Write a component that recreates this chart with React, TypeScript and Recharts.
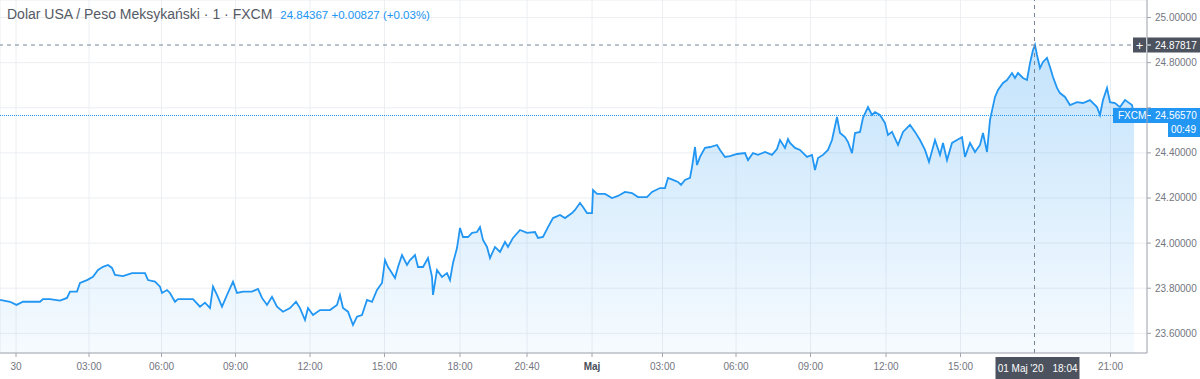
import React from 'react';
import { ComposedChart, Area, XAxis, YAxis, CartesianGrid, ReferenceLine } from 'recharts';

// bar index (2 bars per axis step unit) and close price
const bars = [
  0, 20, 33, 46, 80, 86, 100, 120, 134, 140, 154, 160, 174, 186, 196, 206, 216, 224, 230, 246,
  264, 290, 296, 310, 320, 324, 334, 340, 350, 356, 374, 386, 400, 410, 420, 426, 434, 444, 454, 466,
  474, 486, 504, 516, 524, 534, 544, 554, 566, 580, 592, 600, 610, 616, 626, 640, 660, 674, 680, 686,
  696, 706, 714, 724, 734, 744, 754, 764, 770, 776, 780, 790, 796, 804, 814, 820, 830, 836, 846, 856,
  864, 866, 874, 884, 894, 900, 906, 914, 920, 926, 936, 944, 954, 960, 966, 974, 980, 990, 1000, 1010,
  1016, 1026, 1040, 1054, 1070, 1076, 1086, 1096, 1106, 1120, 1130, 1144, 1150, 1160, 1166, 1174, 1184, 1186, 1194, 1210,
  1224, 1236, 1250, 1264, 1276, 1294, 1304, 1320, 1330, 1336, 1346, 1356, 1362, 1370, 1380, 1384, 1390, 1394, 1400, 1410,
  1420, 1434, 1440, 1450, 1460, 1474, 1490, 1496, 1506, 1516, 1530, 1544, 1554, 1560, 1570, 1576, 1580, 1590, 1600, 1614,
  1624, 1630, 1636, 1646, 1656, 1664, 1674, 1680, 1690, 1696, 1704, 1710, 1720, 1726, 1736, 1744, 1750, 1760, 1770, 1776,
  1784, 1796, 1806, 1820, 1830, 1840, 1850, 1858, 1870, 1880, 1886, 1894, 1904, 1914, 1924, 1930, 1940, 1950, 1960, 1966,
  1974, 1980, 1990, 1996, 2006, 2014, 2024, 2030, 2036, 2046, 2054, 2060, 2066, 2070, 2074, 2080, 2086, 2094, 2100, 2106,
  2114, 2120, 2130, 2140, 2154, 2166, 2180, 2194, 2200, 2206, 2214, 2220, 2230, 2240, 2250, 2256, 2264, 2268,
];

const prices = [
  23.748, 23.740, 23.726, 23.740, 23.740, 23.752, 23.752, 23.745, 23.757, 23.785, 23.785, 23.823, 23.836, 23.851, 23.881, 23.895, 23.903, 23.890, 23.859, 23.854,
  23.867, 23.867, 23.836, 23.829, 23.807, 23.779, 23.792, 23.779, 23.740, 23.752, 23.752, 23.752, 23.718, 23.736, 23.712, 23.807, 23.770, 23.718, 23.770, 23.829,
  23.779, 23.785, 23.785, 23.797, 23.757, 23.726, 23.762, 23.718, 23.696, 23.712, 23.740, 23.712, 23.659, 23.712, 23.681, 23.703, 23.703, 23.726, 23.770, 23.712,
  23.696, 23.637, 23.674, 23.681, 23.748, 23.740, 23.792, 23.823, 23.925, 23.894, 23.881, 23.845, 23.894, 23.947, 23.903, 23.925, 23.947, 23.894, 23.894, 23.934,
  23.850, 23.770, 23.881, 23.850, 23.867, 23.836, 23.912, 23.978, 24.067, 24.027, 24.027, 24.045, 24.049, 24.071, 24.014, 23.983, 23.934, 23.983, 23.961, 24.005,
  23.983, 24.023, 24.058, 24.045, 24.049, 24.023, 24.027, 24.071, 24.111, 24.125, 24.111, 24.133, 24.147, 24.178, 24.160, 24.133, 24.133, 24.235, 24.218, 24.218,
  24.200, 24.209, 24.227, 24.222, 24.204, 24.204, 24.227, 24.244, 24.244, 24.289, 24.280, 24.271, 24.258, 24.280, 24.289, 24.337, 24.426, 24.346, 24.382, 24.422,
  24.426, 24.435, 24.413, 24.382, 24.386, 24.395, 24.399, 24.368, 24.399, 24.391, 24.404, 24.391, 24.417, 24.457, 24.422, 24.461, 24.444, 24.422, 24.413, 24.382,
  24.391, 24.324, 24.377, 24.391, 24.413, 24.457, 24.559, 24.488, 24.470, 24.448, 24.399, 24.488, 24.493, 24.555, 24.603, 24.568, 24.581, 24.568, 24.532, 24.479,
  24.493, 24.435, 24.493, 24.524, 24.493, 24.457, 24.413, 24.360, 24.457, 24.391, 24.444, 24.368, 24.444, 24.457, 24.470, 24.382, 24.444, 24.404, 24.435, 24.488,
  24.404, 24.546, 24.648, 24.679, 24.710, 24.723, 24.754, 24.732, 24.754, 24.732, 24.723, 24.798, 24.856, 24.87817, 24.834, 24.776, 24.803, 24.821, 24.781, 24.736,
  24.688, 24.665, 24.648, 24.612, 24.625, 24.621, 24.634, 24.603, 24.568, 24.634, 24.688, 24.625, 24.621, 24.603, 24.634, 24.625, 24.612, 24.5657,
];

const xTicks = [32, 178, 323, 471, 620, 769, 920, 1054, 1184, 1325, 1472, 1621, 1772, 1921, 2221];
const xTickLabels = ['30', '03:00', '06:00', '09:00', '12:00', '15:00', '18:00', '20:40', 'Maj', '03:00', '06:00', '09:00', '12:00', '15:00', '21:00'];
const yTicks = [23.6, 23.8, 24.0, 24.2, 24.4, 24.6, 24.8, 25.0];

const crossBar = 2069;
const crossPrice = 24.87817;
const lastPrice = 24.5657;
const crossDate = "01 Maj '20";
const crossTime = '18:04';
const countdown = '00:49';
const lastQuote = '24.84367';
const change = '+0.00827 (+0.03%)';
const title = 'Dolar USA / Peso Meksykański · 1 · FXCM';

const data = bars.map((b, i) => ({ bar: b, price: prices[i] }));

const FONT = '"Liberation Sans", Arial, sans-serif';
const BLUE = '#2196f3';
const DARK = '#4c525e';
const TXT = '#737680';
const FS = 10;

const XTick = (props: any) => {
  const { x, y, payload } = props;
  const idx = xTicks.indexOf(payload.value);
  const label = idx >= 0 ? xTickLabels[idx] : '';
  const bold = label === 'Maj';
  return (
    <text x={x} y={y} dy="0.75em" textAnchor="middle" fontSize={FS} fill={bold ? '#4a4d57' : TXT} fontWeight={bold ? 700 : 400}>
      {label}
    </text>
  );
};

// the 24.60000 label sits under the last-price label, as in the picture
const YTick = (props: any) => {
  const { x, y, payload } = props;
  if (Math.abs(payload.value - 24.6) < 1e-6) return <g />;
  return (
    <text x={x} y={y} dy="0.35em" textAnchor="start" fontSize={FS} fill={TXT}>
      {Number(payload.value).toFixed(5)}
    </text>
  );
};

const CrossPriceLabel = (props: any) => {
  const vb = props.viewBox || {};
  const x = vb.x + vb.width;
  const y = vb.y;
  return (
    <g>
      <rect x={x - 14} y={y - 7.5} width={13} height={15} fill={DARK} />
      <text x={x - 7.5} y={y + 4.5} textAnchor="middle" fontSize={13} fill="#fff">+</text>
      <rect x={x} y={y - 7.5} width={53} height={15} fill={DARK} />
      <line x1={x} x2={x + 4} y1={y} y2={y} stroke="#fff" />
      <text x={x + 8} y={y + 3.5} fontSize={FS} fill="#fff">{crossPrice.toFixed(5)}</text>
    </g>
  );
};

const LastPriceLabel = (props: any) => {
  const vb = props.viewBox || {};
  const x = vb.x + vb.width;
  const y = vb.y;
  return (
    <g>
      <rect x={x - 34} y={y - 7.5} width={87} height={15} fill={BLUE} />
      <text x={x - 29} y={y + 3.5} fontSize={FS} fill="#fff">FXCM</text>
      <line x1={x} x2={x + 4} y1={y} y2={y} stroke="#fff" />
      <text x={x + 8} y={y + 3.5} fontSize={FS} fill="#fff">{lastPrice.toFixed(5)}</text>
      <rect x={x + 21} y={y + 7.5} width={32} height={14} fill={BLUE} />
      <text x={x + 49} y={y + 18} fontSize={FS} fill="#fff" textAnchor="end">{countdown}</text>
    </g>
  );
};

const CrossTimeLabel = (props: any) => {
  const vb = props.viewBox || {};
  const x = vb.x;
  const y = vb.y + vb.height;
  return (
    <g>
      <rect x={x - 39} y={y + 4} width={84} height={22} fill={DARK} />
      <text x={x + 9} y={y + 18.5} fontSize={FS} fill="#fff" textAnchor="end">{crossDate}</text>
      <text x={x + 18} y={y + 18.5} fontSize={FS} fill="#fff">{crossTime}</text>
    </g>
  );
};

export default function App() {
  return (
    <div style={{ position: 'absolute', left: 0, top: 0, width: 1200, height: 379, background: '#fff', fontFamily: FONT }}>
      <ComposedChart width={1200} height={379} data={data} margin={{ top: 0, right: 0, bottom: 0, left: 0 }}>
        <defs>
          <linearGradient id="areaFill" x1="0" y1="0" x2="0" y2="1">
            <stop offset="0%" stopColor={BLUE} stopOpacity={0.27} />
            <stop offset="100%" stopColor={BLUE} stopOpacity={0.04} />
          </linearGradient>
        </defs>
        <CartesianGrid stroke="#eceef2" />
        <XAxis
          dataKey="bar"
          type="number"
          domain={[0, 2294]}
          allowDataOverflow
          ticks={xTicks}
          interval={0}
          height={26}
          tickSize={4}
          tickMargin={5}
          stroke="#a3a6af"
          tick={<XTick />}
        />
        <YAxis
          orientation="right"
          type="number"
          domain={[23.51281, 25.07766]}
          allowDataOverflow
          ticks={yTicks}
          interval={0}
          width={53}
          tickSize={4}
          tickMargin={4}
          stroke="#a3a6af"
          tick={<YTick />}
        />
        <Area
          type="linear"
          dataKey="price"
          stroke={BLUE}
          strokeWidth={1.8}
          fill="url(#areaFill)"
          fillOpacity={1}
          isAnimationActive={false}
          dot={false}
          activeDot={false}
        />
        <ReferenceLine x={crossBar} stroke="#758696" strokeDasharray="4 4" label={<CrossTimeLabel />} />
        <ReferenceLine y={lastPrice} stroke={BLUE} strokeWidth={1} strokeDasharray="1 1" label={<LastPriceLabel />} />
        <ReferenceLine y={crossPrice} stroke="#758696" strokeDasharray="4 4" label={<CrossPriceLabel />} />
      </ComposedChart>
      <div style={{ position: 'absolute', left: 7, top: 5, whiteSpace: 'nowrap', lineHeight: '18px' }}>
        <span style={{ fontSize: 14, color: '#555a65' }}>{title}</span>
        <span style={{ fontSize: 11.5, color: BLUE, marginLeft: 8 }}>{lastQuote} {change}</span>
      </div>
    </div>
  );
}
